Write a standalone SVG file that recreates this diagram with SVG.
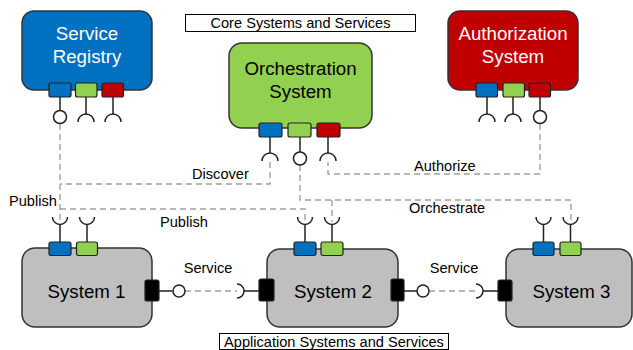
<svg xmlns="http://www.w3.org/2000/svg" width="633" height="350" viewBox="0 0 633 350">
<style>
.box{stroke:#333;stroke-width:1.5}
.port{stroke:#222;stroke-width:1.2}
.blue{fill:#0070C0}.green{fill:#92D050}.red{fill:#C00000}.gray{fill:#BFBFBF}.blk{fill:#000}
.ln{stroke:#222;stroke-width:1.5;fill:none}
.sock{stroke:#222;stroke-width:1.5;fill:none}
.lol{stroke:#222;stroke-width:1.5;fill:#fff}
.dash{stroke:#A0A0A0;stroke-width:1.4;fill:none;stroke-dasharray:6 4}
.big{font-family:"Liberation Sans",Arial,sans-serif;font-size:18.7px;text-anchor:middle}
.lbl{font-family:"Liberation Sans",Arial,sans-serif;font-size:14.6px;fill:#000}
.frame{fill:#fff;stroke:#000;stroke-width:1}
</style>
<g id="connectors">
<!-- Publish from Service Registry -->
<path class="dash" d="M60,124 V222"/>
<path class="dash" d="M60,209 H305 V222"/>
<!-- Discover -->
<path class="dash" d="M270,162 V184 H60"/>
<!-- Orchestrate -->
<path class="dash" d="M300,165 V200 H571 V222"/>
<path class="dash" d="M332,200 V222"/>
<!-- Authorize -->
<path class="dash" d="M540,124 V174 H328 V162"/>
<!-- Services -->
<path class="dash" d="M185,291 H237"/>
<path class="dash" d="M429,291 H476"/>
</g>
<g id="title-core">
<rect class="frame" x="185.5" y="14.5" width="230" height="17"/>
<text class="lbl" x="300.5" y="27.5" text-anchor="middle">Core Systems and Services</text>
</g>
<g id="title-app">
<rect class="frame" x="219.5" y="333.5" width="229" height="16"/>
<text class="lbl" x="334" y="346.5" text-anchor="middle">Application Systems and Services</text>
</g>
<g id="service-registry">
<rect class="box blue" x="22" y="11" width="130" height="79" rx="12"/>
<text class="big" x="87" y="39.5" fill="#fff">Service</text>
<text class="big" x="87" y="62.5" fill="#fff">Registry</text>
<path class="ln" d="M60,97 V110.5 M86,97 V114 M113,97 V114"/>
<rect class="port blue" x="49" y="83" width="22" height="14" rx="2"/>
<rect class="port green" x="75.5" y="83" width="21.5" height="14" rx="2"/>
<rect class="port red" x="102" y="83" width="21.5" height="14" rx="2"/>
<circle class="lol" cx="60" cy="117" r="6.5"/>
<path class="sock" d="M78,122 A8,8 0 0 1 94,122 M105,122 A8,8 0 0 1 121,122"/>
</g>
<g id="orchestration-system">
<rect class="box green" x="229" y="43" width="143" height="85" rx="13"/>
<text class="big" x="300.5" y="75" fill="#000">Orchestration</text>
<text class="big" x="300.5" y="98" fill="#000">System</text>
<path class="ln" d="M270,137 V153 M300,137 V152 M328,137 V153"/>
<rect class="port blue" x="259" y="123" width="23" height="14" rx="2"/>
<rect class="port green" x="288" y="123" width="23" height="14" rx="2"/>
<rect class="port red" x="317" y="123" width="23" height="14" rx="2"/>
<circle class="lol" cx="300" cy="158.5" r="6.5"/>
<path class="sock" d="M262,161 A8,8 0 0 1 278,161 M320,161 A8,8 0 0 1 336,161"/>
</g>
<g id="authorization-system">
<rect class="box red" x="448" y="11" width="130" height="79" rx="12"/>
<text class="big" x="513" y="39.5" fill="#fff">Authorization</text>
<text class="big" x="513" y="62.5" fill="#fff">System</text>
<path class="ln" d="M487,97 V114 M513,97 V114 M540,97 V110.5"/>
<rect class="port blue" x="476" y="83" width="21.5" height="14" rx="2"/>
<rect class="port green" x="503" y="83" width="21.5" height="14" rx="2"/>
<rect class="port red" x="529" y="83" width="21.5" height="14" rx="2"/>
<circle class="lol" cx="540" cy="117" r="6.5"/>
<path class="sock" d="M479,122 A8,8 0 0 1 495,122 M505,122 A8,8 0 0 1 521,122"/>
</g>
<g id="system-1">
<rect class="box gray" x="22" y="248" width="130" height="79" rx="13"/>
<text class="big" x="86.5" y="297.5" fill="#000">System 1</text>
<path class="ln" d="M60,224.5 V242 M87,224.5 V242 M159,291 H172.5"/>
<rect class="port blue" x="49" y="242" width="22" height="13.5" rx="2"/>
<rect class="port green" x="76.5" y="242" width="21" height="13.5" rx="2"/>
<rect class="port blk" x="145" y="280" width="14" height="21" rx="2"/>
<path class="sock" d="M52.5,217 A7.5,7.5 0 0 0 67.5,217 M79.5,217 A7.5,7.5 0 0 0 94.5,217"/>
<circle class="lol" cx="179" cy="291" r="6"/>
</g>
<g id="system-2">
<rect class="box gray" x="267" y="249" width="131" height="78" rx="13"/>
<text class="big" x="333" y="298" fill="#000">System 2</text>
<path class="ln" d="M305,224.5 V242 M332,224.5 V242 M244,291 H259 M404,291 H417"/>
<rect class="port blue" x="294" y="242" width="22" height="13.5" rx="2"/>
<rect class="port green" x="321" y="242" width="22" height="13.5" rx="2"/>
<rect class="port blk" x="259" y="279" width="15" height="22" rx="2"/>
<rect class="port blk" x="391" y="279" width="13" height="22" rx="2"/>
<path class="sock" d="M297.5,217 A7.5,7.5 0 0 0 312.5,217 M324.5,217 A7.5,7.5 0 0 0 339.5,217"/>
<path class="sock" d="M237,284 A7,7 0 0 1 237,298"/>
<circle class="lol" cx="423" cy="291" r="6"/>
</g>
<g id="system-3">
<rect class="box gray" x="506" y="249" width="126" height="78" rx="13"/>
<text class="big" x="571.5" y="298" fill="#000">System 3</text>
<path class="ln" d="M543.5,224.5 V242 M570.5,224.5 V242 M483,291 H498"/>
<rect class="port blue" x="533" y="242" width="21" height="13.5" rx="2"/>
<rect class="port green" x="560" y="242" width="21" height="13.5" rx="2"/>
<rect class="port blk" x="498" y="280" width="14" height="21" rx="2"/>
<path class="sock" d="M536,217 A7.5,7.5 0 0 0 551,217 M563,217 A7.5,7.5 0 0 0 578,217"/>
<path class="sock" d="M476,284 A7,7 0 0 1 476,298"/>
</g>
<g id="labels">
<text class="lbl" x="192" y="179">Discover</text>
<text class="lbl" x="9" y="206">Publish</text>
<text class="lbl" x="160" y="227">Publish</text>
<text class="lbl" x="414" y="171">Authorize</text>
<text class="lbl" x="409" y="213">Orchestrate</text>
<text class="lbl" x="208" y="273" text-anchor="middle">Service</text>
<text class="lbl" x="454" y="273" text-anchor="middle">Service</text>
</g>
</svg>
